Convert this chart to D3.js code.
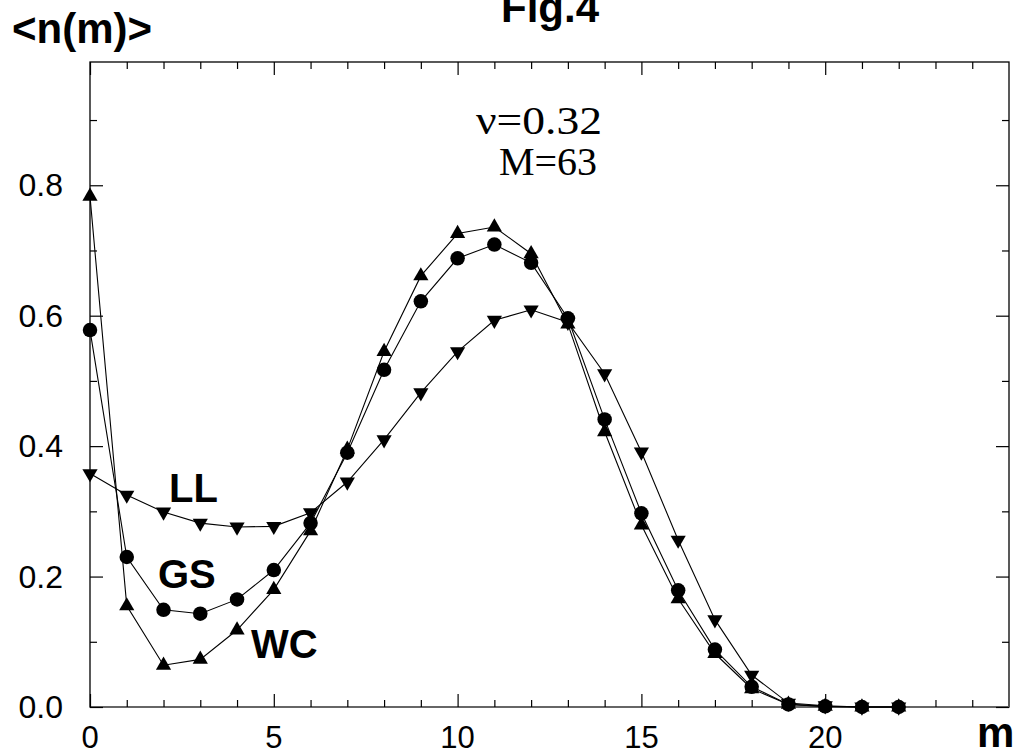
<!DOCTYPE html>
<html><head><meta charset="utf-8">
<script src="https://cdn.jsdelivr.net/npm/d3@7"></script>
<style>body{margin:0;background:#fff}svg{display:block}</style>
</head><body>
<svg id="c" width="1021" height="755"></svg>
<script>
const m = d3.range(0, 23);
const WC = [0.783,0.155,0.064,0.073,0.118,0.180,0.270,0.395,0.545,0.661,0.726,0.736,0.695,0.587,0.422,0.279,0.166,0.082,0.028,0.004,0.001,0.000,0.000];
const GS = [0.578,0.230,0.149,0.143,0.165,0.210,0.282,0.390,0.517,0.622,0.688,0.709,0.681,0.596,0.441,0.297,0.179,0.088,0.031,0.004,0.001,0.000,0.000];
const LL = [0.358,0.325,0.299,0.282,0.276,0.277,0.298,0.345,0.410,0.482,0.545,0.593,0.609,0.590,0.511,0.391,0.256,0.134,0.049,0.006,0.002,0.000,0.000];
const xMajor = [0,5,10,15,20];
const yMajor = [0,0.2,0.4,0.6,0.8];
const yFmt = d3.format(".1f");

const L = 90, R = 1009, T = 62, B = 707;
const svg = d3.select("#c");
const x = d3.scaleLinear().domain([0,25]).range([L,R]);
const y = d3.scaleLinear().domain([0,0.989]).range([B,T]);

// frame
svg.append("rect").attr("x",L).attr("y",T).attr("width",R-L).attr("height",B-T)
  .attr("fill","none").attr("stroke","#000").attr("stroke-width",1.3);
svg.append("line").attr("x1",L).attr("x2",R).attr("y1",B).attr("y2",B)
  .attr("stroke","#666").attr("stroke-width",2);

const xMinor = d3.range(0,26).filter(v=>v%5!==0);
const yMinor = d3.range(1,10).map(v=>v/10).filter((v,i)=>(i%2===0));
function axis(gen, pos, vals, size){
  svg.append("g").attr("transform",pos)
    .call(gen.tickValues(vals).tickSize(size).tickFormat(""))
    .call(g=>{g.select(".domain").remove(); g.selectAll("line").attr("stroke","#000").attr("stroke-width",1.2);});
}
axis(d3.axisBottom(x), `translate(0,${B})`, xMajor, -13);
axis(d3.axisBottom(x), `translate(0,${B})`, xMinor, -7);
axis(d3.axisTop(x), `translate(0,${T})`, xMajor, -13);
axis(d3.axisTop(x), `translate(0,${T})`, xMinor, -7);
axis(d3.axisLeft(y), `translate(${L},0)`, yMajor, -13);
axis(d3.axisLeft(y), `translate(${L},0)`, yMinor, -7);
axis(d3.axisRight(y), `translate(${R},0)`, yMajor, -13);
axis(d3.axisRight(y), `translate(${R},0)`, yMinor, -7);

// tick labels
svg.append("g").selectAll("text").data(xMajor).join("text")
  .attr("x",d=>x(d)).attr("y",748).attr("text-anchor","middle")
  .attr("font-family","Liberation Sans, Arial, sans-serif").attr("font-size",31)
  .text(d=>d);
svg.append("g").selectAll("text").data(yMajor).join("text")
  .attr("x",63).attr("y",d=>y(d)+11).attr("text-anchor","end")
  .attr("font-family","Liberation Sans, Arial, sans-serif").attr("font-size",32)
  .text(d=>yFmt(d));

// lines
const line = d3.line().x((d,i)=>x(m[i])).y(d=>y(d));
[WC,GS,LL].forEach(s=>{
  svg.append("path").attr("d",line(s)).attr("fill","none").attr("stroke","#000").attr("stroke-width",1.1);
});

// markers
const tri = d3.symbol().type(d3.symbolTriangle).size(100);
const circ = d3.symbol().type(d3.symbolCircle).size(165);
svg.append("g").selectAll("path").data(LL).join("path")
  .attr("d",tri()).attr("transform",(d,i)=>`translate(${x(m[i])},${y(d)}) rotate(180)`).attr("fill","#000");
svg.append("g").selectAll("path").data(WC).join("path")
  .attr("d",tri()).attr("transform",(d,i)=>`translate(${x(m[i])},${y(d)})`).attr("fill","#000");
svg.append("g").selectAll("path").data(GS).join("path")
  .attr("d",circ()).attr("transform",(d,i)=>`translate(${x(m[i])},${y(d)})`).attr("fill","#000");

// texts
const bold = (t,xx,yy,fs,anchor)=>svg.append("text").attr("x",xx).attr("y",yy)
  .attr("font-family","Liberation Sans, Arial, sans-serif").attr("font-weight","bold")
  .attr("font-size",fs).attr("text-anchor",anchor||"start").text(t);
bold("Fig.4",550,22,42,"middle");
bold("<n(m)>",12,43,42);
bold("m",977,747,42);
bold("LL",169,502,40);
bold("GS",158,588,40);
bold("WC",251,658,40);

const serif = (t,xx,yy)=>svg.append("text").attr("x",xx).attr("y",yy)
  .attr("font-family","Liberation Serif, Times New Roman, serif")
  .attr("font-size",40).attr("text-anchor","middle").text(t);
serif("ν=0.32",539,134).attr("textLength",126).attr("lengthAdjust","spacingAndGlyphs");
serif("M=63",548,175);
</script>
</body></html>
